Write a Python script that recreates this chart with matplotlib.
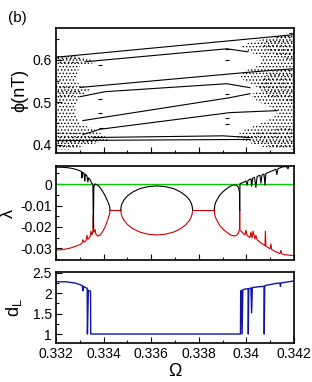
import matplotlib
matplotlib.use("Agg")
import matplotlib.pyplot as plt
from matplotlib.ticker import MultipleLocator

plt.rcParams['font.family'] = ['Liberation Sans', 'DejaVu Sans']
plt.rcParams['axes.unicode_minus'] = False
plt.rcParams['hatch.linewidth'] = 0.6

# ---------------- top panel: bifurcation diagram phi(nT) vs Omega ----------------
# periodic branches (Omega, phi)
branch_A_om = [0.3320, 0.34196]
branch_A_phi = [0.606, 0.659]
branch_B_om = [0.33322, 0.33918, 0.34007]
branch_B_phi = [0.5953, 0.6259, 0.6188]
branch_C_om = [0.33301, 0.34028, 0.34196]
branch_C_phi = [0.5347, 0.5715, 0.5788]
branch_D_om = [0.33301, 0.33406, 0.33918, 0.34015]
branch_D_phi = [0.5129, 0.5247, 0.5435, 0.5341]
branch_E_om = [0.33313, 0.33931, 0.34015]
branch_E_phi = [0.4565, 0.5106, 0.5200]
branch_F_om = [0.33313, 0.33385, 0.33931, 0.34129]
branch_F_phi = [0.4235, 0.4360, 0.4753, 0.4800]
branch_G_om = [0.3320, 0.34015]
branch_G_phi = [0.4094, 0.4120]
branch_H_om = [0.33355, 0.33902, 0.34015]
branch_H_phi = [0.4165, 0.4205, 0.4165]

# chaotic regions (outline of the stippled areas)
chaos_left_om = [0.3320, 0.33267, 0.33351, 0.33368, 0.33301, 0.33292, 0.33280, 0.33301,
                 0.33343, 0.33301, 0.33285, 0.33280, 0.33301, 0.33364, 0.33406, 0.33427,
                 0.33343, 0.33259, 0.3320]
chaos_left_phi = [0.6094, 0.6094, 0.6000, 0.5929, 0.5859, 0.5718, 0.5529, 0.5412,
                  0.5294, 0.5129, 0.4941, 0.4706, 0.4494, 0.4353, 0.4188, 0.4094,
                  0.4000, 0.3882, 0.3882]
chaos_right_om = [0.3420, 0.3412, 0.34036, 0.33973, 0.34015, 0.34066, 0.34049, 0.33994,
                  0.33973, 0.34015, 0.34066, 0.34015, 0.34049, 0.34108, 0.34133, 0.34078,
                  0.33994, 0.33952, 0.33994, 0.34078, 0.3420]
chaos_right_phi = [0.6659, 0.6541, 0.6447, 0.6329, 0.6188, 0.6047, 0.5859, 0.5741,
                   0.5576, 0.5435, 0.5294, 0.5176, 0.5012, 0.4871, 0.4706, 0.4541,
                   0.4353, 0.4188, 0.4071, 0.3929, 0.3882]
# denser bands inside the chaotic regions
dense_lt_om = [0.3320, 0.33280, 0.33340, 0.33300, 0.33240, 0.3320]
dense_lt_phi = [0.6080, 0.6080, 0.5990, 0.5930, 0.5900, 0.5900]
dense_lm_om = [0.3320, 0.33260, 0.33310, 0.33260, 0.3320]
dense_lm_phi = [0.5400, 0.5380, 0.5250, 0.5120, 0.5100]
dense_lb_om = [0.3320, 0.33260, 0.33330, 0.33400, 0.33360, 0.33270, 0.3320]
dense_lb_phi = [0.4300, 0.4280, 0.4250, 0.4140, 0.4050, 0.3950, 0.3900]
dense_rt_om = [0.3420, 0.34120, 0.34050, 0.34090, 0.34150, 0.3420]
dense_rt_phi = [0.6650, 0.6520, 0.6380, 0.6220, 0.6050, 0.5950]
dense_rm_om = [0.3420, 0.34100, 0.34040, 0.34100, 0.3420]
dense_rm_phi = [0.5800, 0.5720, 0.5400, 0.5100, 0.5000]
dense_rb_om = [0.3420, 0.34110, 0.34020, 0.33980, 0.34050, 0.34140, 0.3420]
dense_rb_phi = [0.4450, 0.4350, 0.4260, 0.4120, 0.4040, 0.3900, 0.3882]

# small periodic-window clusters
window_om = [0.33385, 0.33385, 0.33385, 0.33387, 0.33918, 0.33918, 0.33918, 0.33918, 0.33918]
window_phi = [0.5866, 0.5066, 0.4750, 0.4400, 0.6259, 0.5985, 0.5184, 0.4635, 0.4478]

# ---------------- middle panel: Lyapunov exponents ----------------
lam1_left_om = [0.3320, 0.33225, 0.33250, 0.33271, 0.33288, 0.33301, 0.33307, 0.33309,
                0.33311, 0.33318, 0.33321, 0.33323, 0.33330, 0.33334, 0.33337, 0.33345,
                0.33349, 0.33353, 0.33355, 0.33357, 0.33359, 0.33364]
lam1_left = [0.0080, 0.0079, 0.0077, 0.0073, 0.0068, 0.0062, 0.0058, 0.0030,
             0.0056, 0.0051, 0.0015, 0.0047, 0.0038, 0.0010, 0.0030, 0.0018,
             0.0005, 0.0002, -0.0005, -0.0205, -0.0010, 0.0]
lam2_left_om = [0.3320, 0.33225, 0.33250, 0.33267, 0.33284, 0.33301, 0.33309, 0.33313,
                0.33318, 0.33326, 0.33330, 0.33334, 0.33343, 0.33347, 0.33351, 0.33355,
                0.33357, 0.33359, 0.33364]
lam2_left = [-0.0308, -0.0307, -0.0302, -0.0297, -0.0290, -0.0283, -0.0276, -0.0260,
             -0.0272, -0.0265, -0.0240, -0.0258, -0.0248, -0.0220, -0.0238, -0.0222,
             -0.0145, -0.0225, -0.0215]

lens1_top_om = [0.33364, 0.33372, 0.33381, 0.33391, 0.33402, 0.33412, 0.33421, 0.33425, 0.33427]
lens1_top = [0.0, -0.0003, -0.0010, -0.0025, -0.0045, -0.0068, -0.0090, -0.0104, -0.0121]
lens1_bot_om = [0.33364, 0.33368, 0.33376, 0.33387, 0.33397, 0.33408, 0.33418, 0.33425, 0.33427]
lens1_bot = [-0.0215, -0.0235, -0.0243, -0.0237, -0.0220, -0.0196, -0.0165, -0.0140, -0.0121]

flat1_om = [0.33427, 0.33472]
flat2_om = [0.33774, 0.33865]
flat_lam = [-0.0121, -0.0121]

ell_om = [0.33472, 0.33474, 0.33478, 0.33487, 0.33501, 0.33522, 0.33552, 0.33585, 0.33623,
          0.33661, 0.33695, 0.33724, 0.33745, 0.33760, 0.33768, 0.33772, 0.33774]
ell_top = [-0.0121, -0.0102, -0.0089, -0.0072, -0.0054, -0.0037, -0.0021, -0.0012, -0.0008,
           -0.0012, -0.0021, -0.0037, -0.0054, -0.0072, -0.0089, -0.0102, -0.0121]
ell_bot = [-0.0121, -0.0140, -0.0154, -0.0171, -0.0190, -0.0208, -0.0224, -0.0234, -0.0238,
           -0.0234, -0.0224, -0.0208, -0.0190, -0.0171, -0.0154, -0.0140, -0.0121]

lens3_om = [0.33865, 0.33867, 0.33871, 0.33879, 0.33889, 0.33904, 0.33921, 0.33935,
            0.33948, 0.33958, 0.33967, 0.33971, 0.33972]
lens3_top = [-0.0121, -0.0100, -0.0085, -0.0068, -0.0050, -0.0033, -0.0018, -0.0008,
             -0.0003, -0.0005, -0.0015, -0.0040, -0.0121]
lens3_bot = [-0.0121, -0.0142, -0.0158, -0.0175, -0.0195, -0.0213, -0.0228, -0.0238,
             -0.0243, -0.0240, -0.0228, -0.0210, -0.0121]

lam1_right_om = [0.33972, 0.33973, 0.33986, 0.33998, 0.34003, 0.34007, 0.34019, 0.34022,
                 0.34026, 0.34034, 0.34040, 0.34045, 0.34057, 0.34061, 0.34066, 0.34074,
                 0.34078, 0.34082, 0.34099, 0.34116, 0.34124, 0.34128, 0.34133, 0.34150,
                 0.34166, 0.34175, 0.34179, 0.3420]
lam1_right = [-0.0121, 0.0002, 0.0008, 0.0015, -0.0005, 0.0018, 0.0025, -0.0010,
              0.0028, 0.0032, -0.0015, 0.0036, 0.0042, 0.0005, 0.0044, 0.0047,
              -0.0005, 0.0050, 0.0058, 0.0066, 0.0070, 0.0045, 0.0073, 0.0080,
              0.0083, 0.0072, 0.0086, 0.0090]
lam2_right_om = [0.33972, 0.33973, 0.33994, 0.33998, 0.34003, 0.34015, 0.34019, 0.34024,
                 0.34028, 0.34036, 0.34040, 0.34045, 0.34057, 0.34078, 0.34080, 0.34082,
                 0.34099, 0.34103, 0.34106, 0.34120, 0.34141, 0.34145, 0.34148, 0.34162,
                 0.34183, 0.3420]
lam2_right = [-0.0121, -0.0215, -0.0238, -0.0215, -0.0240, -0.0250, -0.0225, -0.0252,
              -0.0220, -0.0256, -0.0240, -0.0260, -0.0272, -0.0288, -0.0220, -0.0290,
              -0.0303, -0.0280, -0.0305, -0.0315, -0.0325, -0.0310, -0.0326, -0.0330,
              -0.0333, -0.0335]

# ---------------- bottom panel: Lyapunov dimension ----------------
dL_om = [0.3320, 0.33242, 0.33280, 0.33301, 0.33311, 0.33313, 0.33314, 0.33326,
         0.33331, 0.33332, 0.33336, 0.33339, 0.33345, 0.33346,
         0.33975, 0.33976, 0.33979, 0.33982, 0.33985, 0.33994, 0.34007, 0.34008,
         0.34010, 0.34019, 0.34022, 0.34025, 0.34040, 0.34057, 0.34074, 0.34075,
         0.34077, 0.34087, 0.34108, 0.34124, 0.34141, 0.34143, 0.34145, 0.34166, 0.3420]
dL = [2.28, 2.28, 2.25, 2.21, 2.18, 2.06, 2.17, 2.13,
      2.12, 1.0, 2.07, 2.06, 2.05, 1.0,
      1.0, 2.05, 2.07, 1.0, 2.08, 2.10, 2.11, 1.0,
      2.11, 2.13, 1.52, 2.14, 2.15, 2.16, 2.17, 1.0,
      2.18, 2.20, 2.22, 2.24, 2.25, 2.17, 2.25, 2.27, 2.30]

xticks = [0.332, 0.334, 0.336, 0.338, 0.340, 0.342]
xticklabels = ['0.332', '0.334', '0.336', '0.338', '0.34', '0.342']

fig = plt.figure(figsize=(3.12, 3.82), dpi=100)
ax1 = fig.add_axes([0.1795, 0.5995, 0.7628, 0.3272])
ax2 = fig.add_axes([0.1795, 0.3194, 0.7628, 0.2460])
ax3 = fig.add_axes([0.1795, 0.1021, 0.7628, 0.1859])

# top panel
for om, ph in [(chaos_left_om, chaos_left_phi), (chaos_right_om, chaos_right_phi)]:
    ax1.fill(om, ph, facecolor='none', edgecolor='k', lw=0, hatch='.....')
for om, ph in [(dense_lt_om, dense_lt_phi), (dense_lm_om, dense_lm_phi),
               (dense_lb_om, dense_lb_phi), (dense_rt_om, dense_rt_phi),
               (dense_rm_om, dense_rm_phi), (dense_rb_om, dense_rb_phi)]:
    ax1.fill(om, ph, facecolor='none', edgecolor='k', lw=0, hatch='....')
for om, ph in [(branch_A_om, branch_A_phi), (branch_B_om, branch_B_phi),
               (branch_C_om, branch_C_phi), (branch_D_om, branch_D_phi),
               (branch_E_om, branch_E_phi), (branch_F_om, branch_F_phi),
               (branch_G_om, branch_G_phi), (branch_H_om, branch_H_phi)]:
    ax1.plot(om, ph, color='k', lw=0.8)
ax1.plot(window_om, window_phi, ls='none', marker='_', ms=3, color='k', mew=0.8)
ax1.set_ylim(0.38, 0.675)
ax1.set_yticks([0.4, 0.5, 0.6])
ax1.set_yticklabels(['0.4', '0.5', '0.6'])
ax1.yaxis.set_minor_locator(MultipleLocator(0.05))
ax1.set_ylabel('\u03d5(nT)', fontsize=13, labelpad=3)
ax1.text(-0.20, 1.05, '(b)', transform=ax1.transAxes, fontsize=11)

# middle panel
red = '#cc0000'
ax2.axhline(0, color='#00cc00', lw=1.0)
ax2.plot(lam2_left_om, lam2_left, color=red, lw=0.8)
ax2.plot(lens1_bot_om, lens1_bot, color=red, lw=0.8)
ax2.plot(ell_om, ell_bot, color=red, lw=0.8)
ax2.plot(lens3_om, lens3_bot, color=red, lw=0.8)
ax2.plot(lam2_right_om, lam2_right, color=red, lw=0.8)
ax2.plot(lam1_left_om, lam1_left, color='k', lw=0.8)
ax2.plot(lens1_top_om, lens1_top, color='k', lw=0.8)
ax2.plot(ell_om, ell_top, color='k', lw=0.8)
ax2.plot(lens3_om, lens3_top, color='k', lw=0.8)
ax2.plot(lam1_right_om, lam1_right, color='k', lw=0.8)
ax2.plot(flat1_om, flat_lam, color=red, lw=0.8)
ax2.plot(flat2_om, flat_lam, color=red, lw=0.8)
ax2.set_ylim(-0.0355, 0.0085)
ax2.set_yticks([0, -0.01, -0.02, -0.03])
ax2.set_yticklabels(['0', '-0.01', '-0.02', '-0.03'])
ax2.yaxis.set_minor_locator(MultipleLocator(0.005))
ax2.set_ylabel('\u03bb', fontsize=13, labelpad=2)

# bottom panel
ax3.plot(dL_om, dL, color='#1414a8', lw=1.0)
ax3.set_ylim(0.78, 2.52)
ax3.set_yticks([1, 1.5, 2, 2.5])
ax3.set_yticklabels(['1', '1.5', '2', '2.5'])
ax3.yaxis.set_minor_locator(MultipleLocator(0.25))
ax3.set_ylabel('d$_\\mathregular{L}$', fontsize=13, labelpad=6)
ax3.set_xlabel('\u03a9', fontsize=13, labelpad=1)

for ax in (ax1, ax2, ax3):
    ax.set_xlim(0.332, 0.342)
    ax.set_xticks(xticks)
    ax.xaxis.set_minor_locator(MultipleLocator(0.001))
    ax.tick_params(which='both', direction='in', top=False, right=False, labelsize=10, pad=3)
    ax.tick_params(which='major', length=4, width=0.8)
    ax.tick_params(which='minor', length=2.5, width=0.8)
    for s in ax.spines.values():
        s.set_linewidth(1.2)
ax1.set_xticklabels([])
ax2.set_xticklabels([])
ax3.set_xticklabels(xticklabels)

fig.savefig('out.png', dpi=100)
